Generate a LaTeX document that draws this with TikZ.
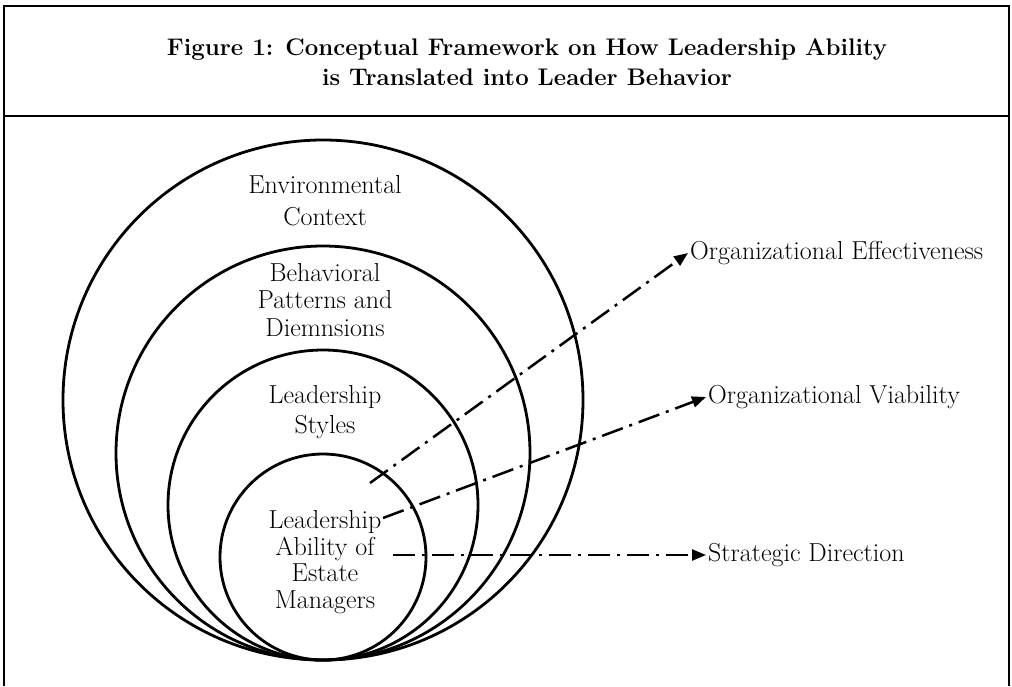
\documentclass[tikz,border=0pt]{standalone}
\usetikzlibrary{arrows.meta}
\begin{document}
\begin{tikzpicture}[x=1pt,y=-1pt,
  ring/.style={draw, circle, line width=2.8pt, inner sep=0pt, minimum size=#1},
  lbl/.style={align=center, inner sep=0pt},
  outcome/.style={anchor=west, font=\fontsize{26}{28}\selectfont, inner sep=2pt},
  flow/.style={line width=2.5pt, dash pattern=on 22pt off 7pt on 3pt off 7pt,
               -{Triangle[length=14pt,width=11pt]}},
  frame/.style={line width=1.8pt}]
\useasboundingbox (0,0) rectangle (1012,686);

% frame and title band
\coordinate (tl) at (4,6);
\coordinate (tr) at (1009,6);
\coordinate (bl) at (4,686);
\coordinate (br) at (1009,686);
\coordinate (ml) at (4,116);
\coordinate (mr) at (1009,116);
\draw[frame] (bl) -- (tl) -- (tr) -- (br);
\draw[frame] (ml) -- (mr);
\node[lbl, font=\fontsize{24}{30}\selectfont\bfseries] (title) at (527,62)
  {Figure 1: Conceptual Framework on How Leadership Ability\\is Translated into Leader Behavior};

% nested circles, all touching at the bottom
\node[ring=520pt] (env) at (323,400) {};
\node[ring=414pt] (beh) at (323,453) {};
\node[ring=310pt] (sty) at (323,505) {};
\node[ring=206pt] (abl) at (323,557) {};

\node[lbl, font=\fontsize{26}{32}\selectfont] (tenv) at (325,201) {Environmental\\Context};
\node[lbl, font=\fontsize{26}{27.5}\selectfont] (tbeh) at (325,300) {Behavioral\\Patterns and\\Diemnsions};
\node[lbl, font=\fontsize{26}{30}\selectfont] (tsty) at (325,412) {Leadership\\Styles};
\node[lbl, font=\fontsize{26}{26.5}\selectfont] (tabl) at (325,562) {Leadership\\Ability of\\Estate\\Managers};

% outcomes
\node[outcome] (oe) at (688,253) {Organizational Effectiveness};
\node[outcome] (ov) at (706,397) {Organizational Viability};
\node[outcome] (sd) at (706,555) {Strategic Direction};

\coordinate (s1) at (370,483);
\coordinate (s2) at (383,518);
\coordinate (s3) at (393,555);
\draw[flow] (s1) -- (oe.west);
\draw[flow] (s2) -- (ov.west);
\draw[flow] (s3) -- (sd.west);
\end{tikzpicture}
\end{document}
